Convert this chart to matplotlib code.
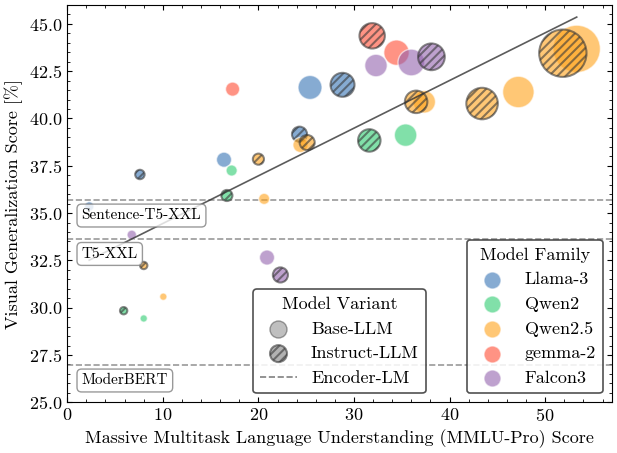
import numpy as np
import matplotlib
matplotlib.use("Agg")
import matplotlib.pyplot as plt
from matplotlib.lines import Line2D
from matplotlib.ticker import AutoMinorLocator

# model families and colours
families = ["Llama-3", "Qwen2", "Qwen2.5", "gemma-2", "Falcon3"]
family_colors = ["#3573B5", "#2ECC71", "#FFA31A", "#FF4B33", "#9362AE"]

# one entry per model: family, variant, size in billions of params, MMLU-Pro, visual score
model_family = [
    "Llama-3", "Llama-3", "Llama-3", "Llama-3", "Llama-3", "Llama-3",
    "Qwen2", "Qwen2", "Qwen2", "Qwen2", "Qwen2", "Qwen2",
    "Qwen2.5", "Qwen2.5", "Qwen2.5", "Qwen2.5", "Qwen2.5", "Qwen2.5",
    "Qwen2.5", "Qwen2.5", "Qwen2.5", "Qwen2.5", "Qwen2.5", "Qwen2.5",
    "gemma-2", "gemma-2", "gemma-2",
    "Falcon3", "Falcon3", "Falcon3", "Falcon3", "Falcon3", "Falcon3",
]
model_variant = [
    "base", "instruct", "base", "instruct", "base", "instruct",
    "base", "instruct", "base", "instruct", "base", "instruct",
    "base", "instruct", "base", "instruct", "base", "instruct",
    "base", "instruct", "base", "instruct", "base", "instruct",
    "base", "base", "instruct",
    "base", "base", "instruct", "base", "base", "instruct",
]
model_params = [
    1, 1, 3, 3, 8, 8,
    0.5, 0.5, 1.5, 1.5, 7, 7,
    0.5, 0.5, 1.5, 1.5, 3, 3,
    7, 7, 14, 14, 32, 32,
    2.6, 9, 9,
    1, 3, 3, 7, 10, 10,
]
mmlu_pro = [
    2.3, 7.6, 16.4, 24.3, 25.4, 28.8,
    8.0, 5.9, 17.2, 16.7, 35.4, 31.6,
    10.05, 8.0, 20.6, 20.0, 24.4, 25.1,
    37.35, 36.5, 47.2, 43.4, 53.3, 51.85,
    17.3, 34.45, 31.9,
    6.75, 20.9, 22.3, 32.3, 36.0, 38.1,
]
visual_score = [
    35.35, 37.04, 37.82, 39.17, 41.64, 41.78,
    29.43, 29.84, 37.25, 35.93, 39.12, 38.84,
    30.58, 32.23, 35.75, 37.85, 38.6, 38.73,
    40.88, 40.88, 41.4, 40.79, 43.68, 43.45,
    41.55, 43.48, 44.37,
    33.85, 32.65, 31.73, 42.8, 42.96, 43.26,
]

# encoder baselines (horizontal lines)
encoder_names = ["Sentence-T5-XXL", "T5-XXL", "ModerBERT"]
encoder_scores = [35.67, 33.64, 26.95]

plt.rcParams['font.family'] = 'serif'
plt.rcParams['font.serif'] = ['cmr10', 'DejaVu Serif']
plt.rcParams['mathtext.fontset'] = 'cm'
plt.rcParams['axes.formatter.use_mathtext'] = True
plt.rcParams['font.size'] = 13
plt.rcParams['xtick.direction'] = 'in'
plt.rcParams['ytick.direction'] = 'in'
plt.rcParams['xtick.top'] = True
plt.rcParams['ytick.right'] = True
plt.rcParams['hatch.linewidth'] = 1.5

fig = plt.figure(figsize=(6.17, 4.53), dpi=100)
ax = fig.add_axes([0.109, 0.112, 0.883, 0.877])

color_of = dict(zip(families, family_colors))
edge_gray = '#3a3a3a'


def marker_size(params):
    return 10 + 36 * params


for fam in families:
    for var in ["base", "instruct"]:
        idx = [i for i in range(len(model_family))
               if model_family[i] == fam and model_variant[i] == var]
        if not idx:
            continue
        xs = [mmlu_pro[i] for i in idx]
        ys = [visual_score[i] for i in idx]
        ss = [marker_size(model_params[i]) for i in idx]
        if var == "base":
            ax.scatter(xs, ys, s=ss, color=color_of[fam], alpha=0.6,
                       edgecolors='white', linewidths=1.0, zorder=3)
        else:
            ax.scatter(xs, ys, s=ss, facecolor=color_of[fam], alpha=0.6,
                       edgecolors=edge_gray, linewidths=1.5, hatch='////', zorder=3)

# linear trend over all models
x = np.array(mmlu_pro)
y = np.array(visual_score)
coef = np.polyfit(x, y, 1)
fx = np.linspace(x.min(), x.max(), 100)
ax.plot(fx, np.polyval(coef, fx), color='#333333', linewidth=1.2, alpha=0.8, zorder=4)

for name, val in zip(encoder_names, encoder_scores):
    ax.axhline(val, color='gray', linestyle='--', linewidth=1.2, alpha=0.8, zorder=2)
    ax.text(1.5, val - 0.8, name, fontsize=11, ha='left', va='center', zorder=5,
            bbox=dict(boxstyle='round,pad=0.3', facecolor='white', edgecolor='gray',
                      alpha=0.8))

ax.set_xlim(0, 57)
ax.set_ylim(25, 46)
ax.xaxis.set_minor_locator(AutoMinorLocator(5))
ax.yaxis.set_minor_locator(AutoMinorLocator(5))
ax.set_yticks([25, 27.5, 30, 32.5, 35, 37.5, 40, 42.5, 45])
ax.set_xlabel("Massive Multitask Language Understanding (MMLU-Pro) Score")
ax.set_ylabel("Visual Generalization Score [%]")

# legends
variant_handles = [
    ax.scatter([], [], s=150, color='gray', alpha=0.5, edgecolors='#444444', linewidths=1.0),
    ax.scatter([], [], s=150, facecolor='gray', alpha=0.6, edgecolors=edge_gray,
               linewidths=1.5, hatch='////'),
    Line2D([], [], color='gray', linestyle='--', linewidth=1.2),
]
leg1 = ax.legend(variant_handles, ["Base-LLM", "Instruct-LLM", "Encoder-LM"],
                 title="Model Variant", loc='lower center', fancybox=True,
                 edgecolor='#333333', framealpha=0.85)
leg1.get_frame().set_linewidth(1.2)
ax.add_artist(leg1)

family_handles = [ax.scatter([], [], s=150, color=c, alpha=0.6, edgecolors='white',
                             linewidths=1.0) for c in family_colors]
leg2 = ax.legend(family_handles, families, title="Model Family", loc='lower right',
                 fancybox=True, edgecolor='#333333', framealpha=0.85)
leg2.get_frame().set_linewidth(1.2)

fig.savefig("out.png", dpi=100)
